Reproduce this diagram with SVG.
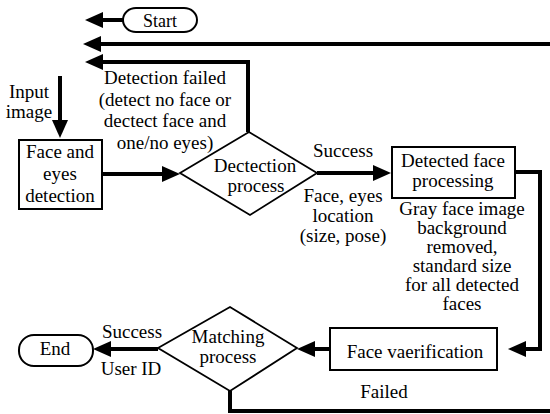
<svg xmlns="http://www.w3.org/2000/svg" width="550" height="414" viewBox="0 0 550 414">
<style>
text{font-family:'Liberation Serif','Times New Roman',serif;font-size:19px;fill:#000;text-anchor:middle}
.shape{fill:#fff;stroke:#000;stroke-width:2}
.dia{fill:#fff;stroke:#000;stroke-width:1.8}
.conn{fill:none;stroke:#000;stroke-width:4}
.arr{marker-end:url(#ah)}
</style>
<defs>
<marker id="ah" markerUnits="userSpaceOnUse" markerWidth="18" markerHeight="16" refX="0" refY="8" orient="auto" overflow="visible">
<path d="M0,0 L18,8 L0,16 z" fill="#000"/>
</marker>
</defs>
<rect width="550" height="414" fill="#fff"/>
<g id="connectors">
<path class="conn arr" d="M123,20 H103"/>
<path class="conn arr" d="M550,44 H101"/>
<path class="conn arr" d="M248,132 V62 H103"/>
<path class="conn arr" d="M60,76 V120"/>
<path class="conn arr" d="M102,174 H162"/>
<path class="conn arr" d="M317,173 H373"/>
<path class="conn arr" d="M515,172 H540 V349 H526"/>
<path class="conn arr" d="M330,349 H315"/>
<path class="conn arr" d="M158,349 H111"/>
<path class="conn" d="M230,391 V411 H550"/>
</g>
<g id="start">
<rect class="shape" x="123" y="8" width="74" height="24" rx="13" ry="12"/>
<text x="160" y="27" style="font-size:18px">Start</text>
</g>
<g id="input-label">
<text x="29" y="98">Input</text>
<text x="29" y="118">image</text>
</g>
<g id="detection-failed-label">
<text x="165" y="84">Detection failed</text>
<text x="165" y="106">(detect no face or</text>
<text x="165" y="127">dectect face and</text>
<text x="165" y="149">one/no eyes)</text>
</g>
<g id="face-eyes-detection">
<rect class="shape" x="19" y="140" width="83" height="69"/>
<text x="60" y="158">Face and</text>
<text x="60" y="180">eyes</text>
<text x="60" y="202">detection</text>
</g>
<g id="detection-process">
<polygon class="dia" points="180,173 249,132 317,173 250,215"/>
<text x="255" y="172">Dectection</text>
<text x="256" y="192">process</text>
</g>
<g id="success-label">
<text x="343" y="157">Success</text>
<text x="343" y="202">Face, eyes</text>
<text x="343" y="222">location</text>
<text x="343" y="242">(size, pose)</text>
</g>
<g id="detected-face-processing">
<rect class="shape" x="392" y="147" width="123" height="51"/>
<text x="453" y="167">Detected face</text>
<text x="453" y="187">processing</text>
</g>
<g id="gray-face-label">
<text x="462" y="215">Gray face image</text>
<text x="462" y="234">background</text>
<text x="462" y="253">removed,</text>
<text x="462" y="272">standard size</text>
<text x="462" y="291">for all detected</text>
<text x="462" y="310">faces</text>
</g>
<g id="face-verification">
<rect class="shape" x="330" y="328" width="167" height="42"/>
<text x="415" y="358">Face vaerification</text>
</g>
<g id="matching-process">
<polygon class="dia" points="158,348 230,307 297,348 230,391"/>
<text x="228" y="343">Matching</text>
<text x="228" y="363">process</text>
</g>
<g id="match-labels">
<text x="132" y="338">Success</text>
<text x="131" y="375">User ID</text>
<text x="384" y="398">Failed</text>
</g>
<g id="end">
<rect class="shape" x="19" y="335" width="74" height="31" rx="15" ry="15"/>
<text x="55" y="355">End</text>
</g>
</svg>
